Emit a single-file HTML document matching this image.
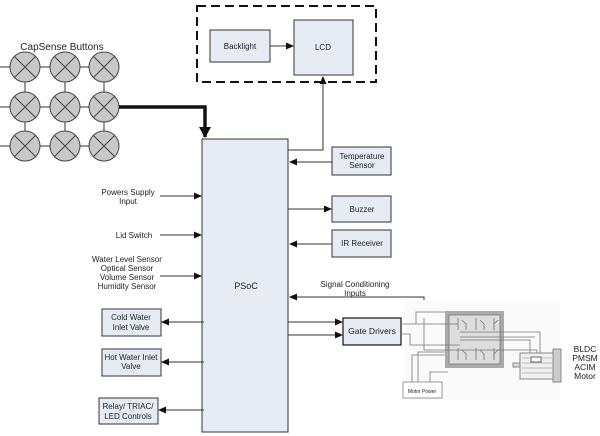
<!DOCTYPE html>
<html><head><style>body{margin:0;background:#fff}svg{display:block}text{font-family:"Liberation Sans",sans-serif;fill:#222}</style></head><body>
<svg width="600" height="436" viewBox="0 0 600 436" xmlns="http://www.w3.org/2000/svg">
<defs><marker id="a" markerWidth="8" markerHeight="8" refX="7" refY="4" orient="auto" markerUnits="userSpaceOnUse"><path d="M0,0.5 L8,4 L0,7.5z" fill="#111"/></marker>
<marker id="b" markerWidth="12" markerHeight="12" refX="10" refY="6" orient="auto" markerUnits="userSpaceOnUse"><path d="M0,0 L11,6 L0,12z" fill="#111"/></marker></defs>
<g font-size="9" text-anchor="middle">
<!-- capsense -->
<text x="62" y="50" font-size="10">CapSense Buttons</text>
<g stroke="#333" stroke-width="1">
<line x1="0" y1="67" x2="104" y2="67"/><line x1="0" y1="107" x2="104" y2="107"/><line x1="0" y1="146" x2="104" y2="146"/>
<line x1="25" y1="67" x2="25" y2="146"/><line x1="65" y1="67" x2="65" y2="146"/><line x1="104" y1="67" x2="104" y2="146"/>
</g>
<g fill="#c8c8c8" stroke="#444" stroke-width="1">
<circle cx="25" cy="67" r="15"/><circle cx="65" cy="67" r="15"/><circle cx="104" cy="67" r="15"/>
<circle cx="25" cy="107" r="15"/><circle cx="65" cy="107" r="15"/><circle cx="104" cy="107" r="15"/>
<circle cx="25" cy="146" r="15"/><circle cx="65" cy="146" r="15"/><circle cx="104" cy="146" r="15"/>
</g>
<g stroke="#444" stroke-width="1">
<path d="M14,56l22,22M36,56l-22,22M54,56l22,22M76,56l-22,22M93,56l22,22M115,56l-22,22"/>
<path d="M14,96l22,22M36,96l-22,22M54,96l22,22M76,96l-22,22M93,96l22,22M115,96l-22,22"/>
<path d="M14,135l22,22M36,135l-22,22M54,135l22,22M76,135l-22,22M93,135l22,22M115,135l-22,22"/>
</g>
<path d="M119,107 H205 V137" fill="none" stroke="#111" stroke-width="3.5" marker-end="url(#b)"/>
<!-- display -->
<rect x="197" y="6" width="179" height="76" fill="none" stroke="#111" stroke-width="2" stroke-dasharray="9,5"/>
<rect x="210" y="30" width="60" height="32" fill="#e6ebf4" stroke="#333"/><text x="240" y="49" font-size="8">Backlight</text>
<rect x="294" y="20" width="59" height="55" fill="#e6ebf4" stroke="#333"/><text x="323" y="50" font-size="8">LCD</text>
<line x1="270" y1="46" x2="293" y2="46" stroke="#333" marker-end="url(#a)"/>
<!-- psoc -->
<rect x="202" y="139" width="86" height="293" fill="#e6ebf4" stroke="#333"/>
<text x="246" y="289">PSoC</text>
<path d="M288,150 H323 V77" fill="none" stroke="#333" marker-end="url(#a)"/>
<rect x="332" y="147" width="59" height="28" fill="#e6ebf4" stroke="#333"/><text x="362" y="159" font-size="8">Temperature</text><text x="362" y="168" font-size="8">Sensor</text>
<line x1="332" y1="162" x2="290" y2="162" stroke="#333" marker-end="url(#a)"/>
<rect x="332" y="196" width="59" height="26" fill="#e6ebf4" stroke="#333"/><text x="362" y="212" font-size="8">Buzzer</text>
<line x1="288" y1="209" x2="331" y2="209" stroke="#333" marker-end="url(#a)"/>
<rect x="332" y="230" width="59" height="27" fill="#e6ebf4" stroke="#333"/><text x="362" y="246" font-size="8">IR Receiver</text>
<line x1="332" y1="244" x2="290" y2="244" stroke="#333" marker-end="url(#a)"/>
<text x="355" y="287" font-size="8">Signal Conditioning</text><text x="355" y="296" font-size="8">Inputs</text>
<path d="M424,350 V297 H290" fill="none" stroke="#333" marker-end="url(#a)"/>
<rect x="343" y="318" width="58" height="27" fill="#e6ebf4" stroke="#222" stroke-width="1.3"/><text x="372" y="334" font-size="8.5">Gate Drivers</text>
<line x1="288" y1="322" x2="342" y2="322" stroke="#333" marker-end="url(#a)"/>
<line x1="288" y1="335" x2="342" y2="335" stroke="#333" marker-end="url(#a)"/>
<!-- left inputs -->
<text x="128" y="195" font-size="8">Powers Supply</text><text x="128" y="204" font-size="8">Input</text>
<line x1="160" y1="196" x2="201" y2="196" stroke="#333" marker-end="url(#a)"/>
<text x="134" y="238" font-size="8">Lid Switch</text>
<line x1="160" y1="235" x2="201" y2="235" stroke="#333" marker-end="url(#a)"/>
<text x="127" y="262" font-size="8">Water Level Sensor</text><text x="127" y="271" font-size="8">Optical Sensor</text><text x="127" y="280" font-size="8">Volume Sensor</text><text x="127" y="289" font-size="8">Humidity Sensor</text>
<line x1="160" y1="276" x2="201" y2="276" stroke="#333" marker-end="url(#a)"/>
<rect x="102" y="309" width="59" height="27" fill="#e6ebf4" stroke="#333"/><text x="131" y="320" font-size="8">Cold Water</text><text x="131" y="330" font-size="8">Inlet Valve</text>
<line x1="204" y1="322" x2="162" y2="322" stroke="#333" marker-end="url(#a)"/>
<rect x="102" y="349" width="59" height="27" fill="#e6ebf4" stroke="#333"/><text x="131" y="360" font-size="8">Hot Water Inlet</text><text x="131" y="369" font-size="8">Valve</text>
<line x1="204" y1="362" x2="162" y2="362" stroke="#333" marker-end="url(#a)"/>
<rect x="99" y="398" width="59" height="26" fill="#e6ebf4" stroke="#333"/><text x="128" y="409" font-size="8">Relay/ TRIAC/</text><text x="128" y="419" font-size="8">LED Controls</text>
<line x1="204" y1="410" x2="159" y2="410" stroke="#333" marker-end="url(#a)"/>
<!-- motor area -->
<rect x="405" y="300" width="155" height="100" fill="#fafafa"/>
<rect x="445" y="311" width="59" height="57" fill="#aaa"/>
<rect x="449" y="315" width="51" height="49" fill="#ddd" stroke="#888"/>
<g stroke="#777" fill="none" stroke-width="0.8">
<path d="M401,324 H458 M401,334 H410 V345 H460 M401,345 M416,324 V312 H445 M424,350 V318 M424,350 H537 V362 M460,340 H530 V360 M460,332 H540 V362 M460,337 H535"/>
<path d="M412,382 V355 H445 M418,382 V352 H445 M430,382 V372 H448"/>
<path d="M458,318 l0,12 M476,318 l0,12 M494,318 l0,12 M458,348 l0,12 M476,348 l0,12 M494,348 l0,12"/>
<path d="M462,320 l4,4 l0,6 M480,320 l4,4 l0,6 M498,320 l-4,4 l0,6 M462,350 l4,4 l0,6 M480,350 l4,4 l0,6 M498,350 l-4,4 l0,6"/>
</g>
<rect x="520" y="353" width="33" height="26" fill="#f0f0f0" stroke="#888"/>
<path d="M522,358 H552 M522,363 H552 M522,368 H552 M522,373 H552" stroke="#bbb"/>
<rect x="553" y="349" width="8" height="33" fill="#ccc" stroke="#888"/>
<rect x="513" y="363" width="7" height="4" fill="#ddd" stroke="#888"/>
<rect x="531" y="357" width="10" height="5" fill="#fff" stroke="#666"/>
<rect x="403" y="382" width="39" height="16" fill="#fff" stroke="#999"/><text x="422" y="393" font-size="5">Motor Power</text>
<text x="585" y="352" font-size="8.5">BLDC</text><text x="585" y="361" font-size="8.5">PMSM</text><text x="585" y="370" font-size="8.5">ACIM</text><text x="585" y="379" font-size="8.5">Motor</text>
</g>
</svg>
</body></html>
